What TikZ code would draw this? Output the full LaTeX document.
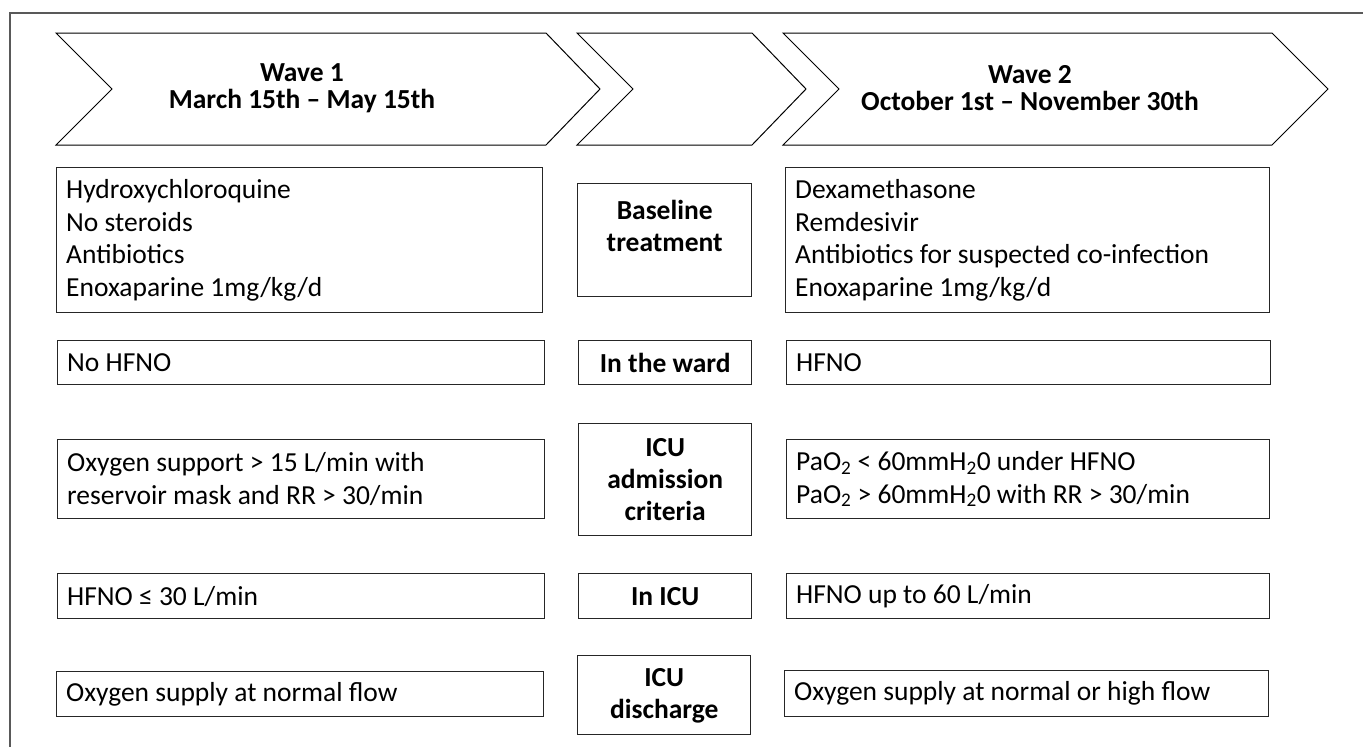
\documentclass[tikz,border=0pt]{standalone}
\usepackage{fontspec}
\setmainfont{Carlito}
\begin{document}
\begin{tikzpicture}[x=1pt,y=-1pt,
  box/.style={draw=black!85, line width=1.4pt, inner sep=0pt, anchor=north west},
  ltxt/.style={align=left, anchor=west, inner sep=0pt, font=\fontsize{27.5}{32.5}\selectfont},
  mtxt/.style={align=center, font=\bfseries\fontsize{27.5}{32}\selectfont},
  htxt/.style={align=center, font=\bfseries\fontsize{27.5}{27}\selectfont},
  chev/.style={draw=black, line width=1pt}]
\useasboundingbox (0,0) rectangle (1363,747);
% outer frame (cropped at right and bottom)
\draw[black!65, line width=2pt] (1363,13) -- (10,13) -- (10,747);
% chevrons
\draw[chev] (56,33) -- (546,33) -- (600,89) -- (546,145) -- (56,145) -- (112,89) -- cycle;
\draw[chev] (577,33) -- (752,33) -- (806,89) -- (752,145) -- (577,145) -- (633,89) -- cycle;
\draw[chev] (783,33) -- (1272,33) -- (1328,89) -- (1272,145) -- (783,145) -- (839,89) -- cycle;
\node[htxt] (w1) at (302,88) {Wave 1\\March 15th -- May 15th};
\node[htxt] (w2) at (1030,88) {Wave 2\\October 1st -- November 30th};
% left column
\node[box, minimum width=486, minimum height=145] (l1) at (56,167) {};
\node[box, minimum width=487, minimum height=44] (l2) at (57,340) {};
\node[box, minimum width=487, minimum height=79] (l3) at (57,439) {};
\node[box, minimum width=487, minimum height=45] (l4) at (57,573) {};
\node[box, minimum width=487, minimum height=45] (l5) at (56,671) {};
\node[ltxt] (t1) at ([xshift=10]l1.west) {Hydroxychloroquine\\No steroids\\Antibiotics\\Enoxaparine 1mg/kg/d};
\node[ltxt] (t2) at ([xshift=10]l2.west) {No HFNO};
\node[ltxt] (t3) at ([xshift=10]l3.west) {Oxygen support > 15 L/min with\\reservoir mask and RR > 30/min};
\node[ltxt] (t4) at ([xshift=10]l4.west) {HFNO ≤ 30 L/min};
\node[ltxt] (t5) at ([xshift=10]l5.west) {Oxygen supply at normal flow};
% middle column
\node[box, minimum width=174, minimum height=113] (m1) at (577,183) {};
\node[box, minimum width=173, minimum height=44] (m2) at (578,340) {};
\node[box, minimum width=173, minimum height=112] (m3) at (578,423) {};
\node[box, minimum width=173, minimum height=45] (m4) at (578,573) {};
\node[box, minimum width=173, minimum height=79] (m5) at (577,655) {};
\node[mtxt] (u1) at ([yshift=14]m1.center) {Baseline\\treatment};
\node[mtxt] (u2) at (m2.center) {In the ward};
\node[mtxt] (u3) at (m3.center) {ICU\\admission\\criteria};
\node[mtxt] (u4) at (m4.center) {In ICU};
\node[mtxt] (u5) at ([yshift=-1]m5.center) {ICU\\discharge};
% right column
\node[box, minimum width=484, minimum height=145] (r1) at (785,167) {};
\node[box, minimum width=484, minimum height=44] (r2) at (786,340) {};
\node[box, minimum width=483, minimum height=79] (r3) at (786,439) {};
\node[box, minimum width=483, minimum height=45] (r4) at (786,573) {};
\node[box, minimum width=484, minimum height=46] (r5) at (784,670) {};
\node[ltxt] (s1) at ([xshift=10]r1.west) {Dexamethasone\\Remdesivir\\Antibiotics for suspected co-infection\\Enoxaparine 1mg/kg/d};
\node[ltxt] (s2) at ([xshift=10]r2.west) {HFNO};
\node[ltxt] (s3) at ([xshift=10]r3.west) {PaO\textsubscript{2} < 60mmH\textsubscript{2}0 under HFNO\\PaO\textsubscript{2} > 60mmH\textsubscript{2}0 with RR > 30/min};
\node[ltxt] (s4) at ([xshift=10]r4.west) {HFNO up to 60 L/min};
\node[ltxt] (s5) at ([xshift=10]r5.west) {Oxygen supply at normal or high flow};
\end{tikzpicture}
\end{document}
